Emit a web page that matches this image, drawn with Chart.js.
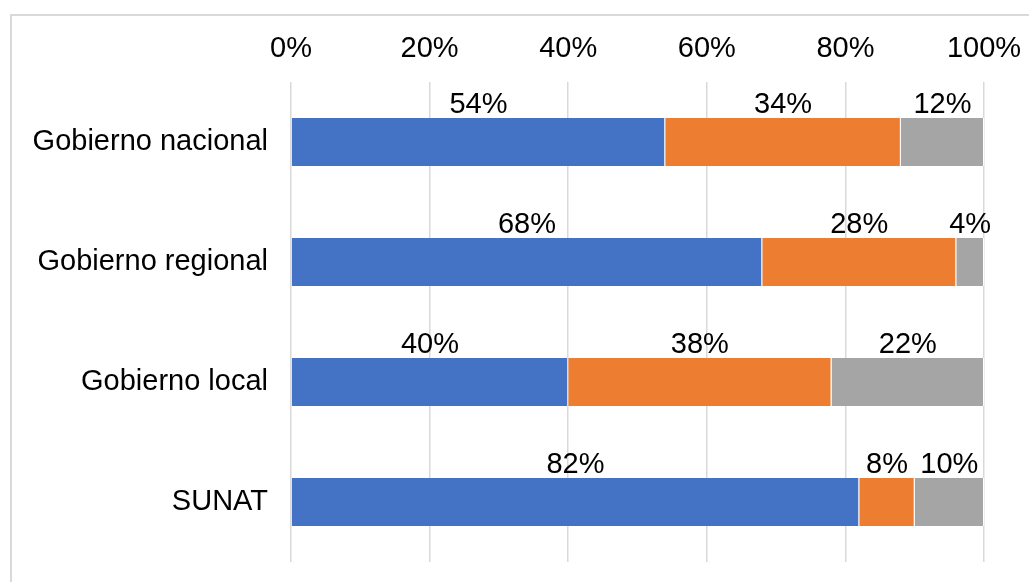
<!DOCTYPE html>
<html>
<head>
<meta charset="utf-8">
<script src="https://cdn.jsdelivr.net/npm/chart.js"></script>
<style>
    html, body { margin: 0; padding: 0; background: #ffffff; overflow: hidden; }
    #frame {
        position: absolute; left: 10px; top: 14px; width: 1100px; height: 700px;
        border-top: 2px solid #d9d9d9; border-left: 2px solid #d9d9d9;
    }
    #wrap { position: absolute; left: 0; top: 0; width: 1029px; height: 582px; }
</style>
</head>
<body>
<div id="frame"></div>
<div id="wrap"><canvas id="barChart"></canvas></div>
<script>
const categories = ['Gobierno nacional', 'Gobierno regional', 'Gobierno local', 'SUNAT'];
const seriesA = [54, 68, 40, 82];
const seriesB = [34, 28, 38, 8];
const seriesC = [12, 4, 22, 10];
const xTicks = [0, 20, 40, 60, 80, 100];

const FONT = '"Liberation Sans", Arial, sans-serif';

// labels drawn above each segment, centred on it
const aboveLabels = {
    id: 'aboveLabels',
    afterDatasetsDraw(chart) {
        const ctx = chart.ctx;
        ctx.save();
        ctx.font = '29px ' + FONT;
        ctx.fillStyle = '#000000';
        ctx.textAlign = 'center';
        ctx.textBaseline = 'middle';
        chart.data.datasets.forEach((ds, i) => {
            chart.getDatasetMeta(i).data.forEach((bar, j) => {
                const p = bar.getProps(['x', 'y', 'base', 'height'], true);
                const cx = (p.x + p.base) / 2;
                const top = p.y - p.height / 2;
                ctx.fillText(ds.data[j] + '%', cx, top - 13);
            });
        });
        ctx.restore();
    }
};

new Chart(document.getElementById('barChart'), {
    type: 'bar',
    data: {
        labels: categories,
        datasets: [
            { label: 'A', data: seriesA, backgroundColor: '#4472C4' },
            { label: 'B', data: seriesB, backgroundColor: '#ED7D31' },
            { label: 'C', data: seriesC, backgroundColor: '#A5A5A5' }
        ]
    },
    options: {
        indexAxis: 'y',
        responsive: true,
        maintainAspectRatio: false,
        animation: false,
        layout: { padding: { left: 0, right: 45, top: 0, bottom: 20 } },
        datasets: {
            bar: {
                categoryPercentage: 1.0,
                barPercentage: 0.4,
                borderColor: '#ffffff',
                borderWidth: { top: 0, bottom: 0, left: 0, right: 1 },
                borderSkipped: false
            }
        },
        scales: {
            x: {
                position: 'top',
                stacked: true,
                min: 0,
                max: 100,
                afterBuildTicks(axis) {
                    axis.ticks = xTicks.map(v => ({ value: v }));
                },
                afterFit(axis) {
                    axis.height = 82;
                    axis.paddingLeft = 0;
                    axis.paddingRight = 0;
                },
                grid: { color: '#d9d9d9', lineWidth: 1.5, drawTicks: false },
                border: { display: false },
                ticks: {
                    padding: 16,
                    color: '#000000',
                    font: { family: FONT, size: 29 },
                    callback: v => v + '%'
                }
            },
            y: {
                stacked: true,
                afterFit(axis) {
                    axis.width = 291;
                    axis.paddingTop = 0;
                    axis.paddingBottom = 0;
                },
                grid: { display: false },
                border: { display: false },
                ticks: {
                    padding: 15,
                    color: '#000000',
                    font: { family: FONT, size: 29 }
                }
            }
        },
        plugins: {
            legend: { display: false },
            tooltip: { enabled: false }
        }
    },
    plugins: [aboveLabels]
});
</script>
</body>
</html>
